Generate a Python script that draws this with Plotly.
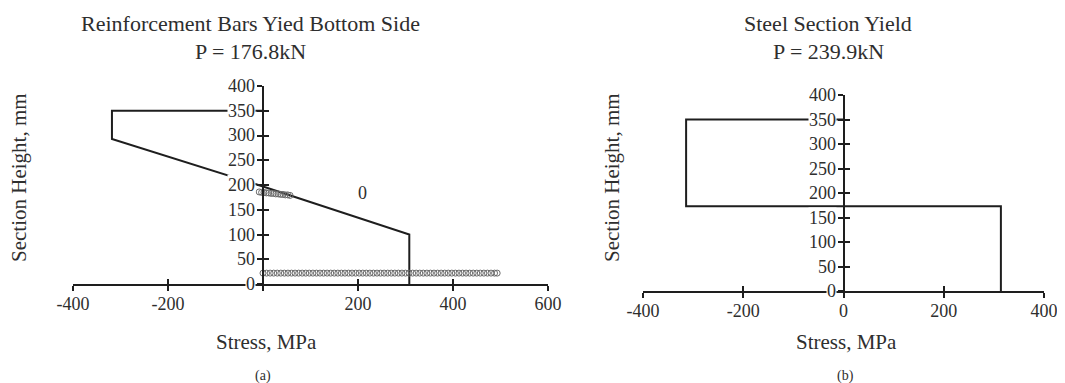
import plotly.graph_objects as go

W, H = 1065, 383          # window size of the reference
OFF = 8                   # page body margin that shifts the figure
FW, FH = W - OFF, H - OFF # figure size so it fits the window exactly
FONT = "Liberation Serif"
INK = "#1e1e1e"
TXT = "#2e2e2e"

# ---------------- data: panel (a) ----------------
a_title = "Reinforcement Bars Yied Bottom Side"
a_load = "P = 176.8kN"
a_x_range = [-400, 600]
a_y_range = [0, 400]
a_x_ticks = [-400, -200, 0, 200, 400, 600]
a_x_ticktext = ["-400", "-200", "", "200", "400", "600"]
a_profile_stress = [0, -318, -318, 0, 308, 308]
a_profile_height = [350, 350, 293, 197, 100, 0]
a_bottom_bar_stress = [0, 7.5, 15, 22.5, 30, 37.5, 45, 52.5, 60, 67.5, 75, 82.5, 90, 97.5,
                       105, 112.5, 120, 127.5, 135, 142.5, 150, 157.5, 165, 172.5, 180, 187.5,
                       195, 202.5, 210, 217.5, 225, 232.5, 240, 247.5, 255, 262.5, 270, 277.5,
                       285, 292.5, 300, 307.5, 315, 322.5, 330, 337.5, 345, 352.5, 360, 367.5,
                       375, 382.5, 390, 397.5, 405, 412.5, 420, 427.5, 435, 442.5, 450, 457.5,
                       465, 472.5, 480, 487.5, 493]
a_bottom_bar_height = [22] * len(a_bottom_bar_stress)
a_top_bar_stress = [-8, -3, 2, 7, 12, 17, 22, 27, 32, 37, 42, 47, 52, 57]
a_top_bar_height = [186, 185, 185, 184, 184, 183, 183, 182, 182, 181, 181, 180, 180, 179]
a_note_stress, a_note_height, a_note_text = 210, 184, "0"

# ---------------- data: panel (b) ----------------
b_title = "Steel Section Yield"
b_load = "P = 239.9kN"
b_x_range = [-400, 400]
b_y_range = [0, 400]
b_x_ticks = [-400, -200, 0, 200, 400]
b_x_ticktext = ["-400", "-200", "0", "200", "400"]
b_profile_stress = [0, -314, -314, 314, 314]
b_profile_height = [350, 350, 173, 173, 0]

y_ticks = [0, 50, 100, 150, 200, 250, 300, 350, 400]
x_title = "Stress, MPa"
y_title = "Section Height, mm"

# ---------------- layout geometry (window pixels) ----------------
a_dom_px = (73, 548, 86, 284)   # left, right, top, bottom
b_dom_px = (643, 1044, 95, 291)


def px_x(rx):
    return (rx - OFF) / FW


def px_y(ry):
    return 1 - (ry - OFF) / FH


def xdom(d):
    return [px_x(d[0]), px_x(d[1])]


def ydom(d):
    return [px_y(d[3]), px_y(d[2])]


def zero_pos(d, rng):
    x0, x1 = xdom(d)
    return x0 + (0 - rng[0]) / (rng[1] - rng[0]) * (x1 - x0)


fig = go.Figure()

line_style = dict(color=INK, width=2)
bar_marker = dict(symbol="circle-open", size=6, color="#6a6a6a",
                  line=dict(width=1, color="#6a6a6a"))
fig.add_trace(go.Scatter(x=a_profile_stress, y=a_profile_height, mode="lines",
                         line=line_style, xaxis="x", yaxis="y", showlegend=False))
# the rebar points sit on the twin (cross-tick) axes, which share the same ranges
fig.add_trace(go.Scatter(x=a_bottom_bar_stress, y=a_bottom_bar_height, mode="markers",
                         marker=bar_marker, xaxis="x3", yaxis="y3", showlegend=False))
fig.add_trace(go.Scatter(x=a_top_bar_stress, y=a_top_bar_height, mode="markers",
                         marker=bar_marker, xaxis="x3", yaxis="y3", showlegend=False))
fig.add_trace(go.Scatter(x=b_profile_stress, y=b_profile_height, mode="lines",
                         line=line_style, xaxis="x2", yaxis="y2", showlegend=False))
# empty trace that only registers the twin axes of panel (b)
fig.add_trace(go.Scatter(x=[], y=[], mode="lines", xaxis="x4", yaxis="y4",
                         showlegend=False, hoverinfo="skip"))

tickfont = dict(family=FONT, size=18, color=TXT)
common = dict(showgrid=False, zeroline=False, fixedrange=True, automargin=False,
              tickwidth=2, tickcolor=INK, ticklen=5)


def x_main(dom, rng, ticks, texts, anchor):
    return dict(domain=xdom(dom), range=rng, anchor=anchor, showline=True, linecolor=INK,
                linewidth=2, ticks="outside", tickvals=ticks, ticktext=texts,
                tickfont=tickfont, ticklabelstandoff=-3, **common)


def x_twin(over, anchor, rng, ticks):
    return dict(overlaying=over, anchor=anchor, range=rng, showline=False, ticks="inside",
                tickvals=ticks, showticklabels=False, **common)


def y_main(dom, rng, pos):
    return dict(domain=ydom(dom), range=rng, anchor="free", position=pos, showline=True,
                linecolor=INK, linewidth=2, ticks="outside", tickvals=y_ticks,
                showticklabels=False, **common)


def y_twin(over, rng, pos):
    return dict(overlaying=over, anchor="free", position=pos, range=rng, showline=False,
                ticks="inside", tickvals=y_ticks, showticklabels=False, **common)


a_pos = zero_pos(a_dom_px, a_x_range)
b_pos = zero_pos(b_dom_px, b_x_range)

fig.update_layout(
    template="none",
    width=FW, height=FH, margin=dict(l=0, r=0, t=0, b=0, pad=0, autoexpand=False),
    paper_bgcolor="white", plot_bgcolor="white",
    xaxis=x_main(a_dom_px, a_x_range, a_x_ticks, a_x_ticktext, "y"),
    yaxis=y_main(a_dom_px, a_y_range, a_pos),
    xaxis2=x_main(b_dom_px, b_x_range, b_x_ticks, b_x_ticktext, "y2"),
    yaxis2=y_main(b_dom_px, b_y_range, b_pos),
    xaxis3=x_twin("x", "y3", a_x_range, a_x_ticks),
    yaxis3=y_twin("y", a_y_range, a_pos),
    xaxis4=x_twin("x2", "y4", b_x_range, b_x_ticks),
    yaxis4=y_twin("y2", b_y_range, b_pos),
)

ann = []
# masked y tick labels (white background hides lines beneath, as in the original)
for xr, yr in (("x", "y"), ("x2", "y2")):
    for v in y_ticks:
        ann.append(dict(xref=xr, yref=yr, x=0, y=v, text=str(v), showarrow=False,
                        xanchor="right", yanchor="middle", xshift=-7, bgcolor="white",
                        borderpad=0, font=tickfont))


def paper_text(rx, ry, text, size, angle=0):
    return dict(xref="paper", yref="paper", x=px_x(rx), y=px_y(ry), text=text,
                showarrow=False, xanchor="center", yanchor="middle", textangle=angle,
                font=dict(family=FONT, size=size, color=TXT))


ann += [
    paper_text(250, 23, a_title, 22),
    paper_text(250, 52, a_load, 22),
    paper_text(828, 23, b_title, 22),
    paper_text(828, 52, b_load, 22),
    paper_text(266, 342, x_title, 21),
    paper_text(846, 342, x_title, 21),
    paper_text(263, 376, "(a)", 14),
    paper_text(845, 376, "(b)", 14),
    paper_text(19, 178, y_title, 21, -90),
    paper_text(612, 178, y_title, 21, -90),
    dict(xref="x", yref="y", x=a_note_stress, y=a_note_height, text=a_note_text,
         showarrow=False, font=dict(family=FONT, size=18, color=TXT)),
]
fig.update_layout(annotations=ann)

fig.write_html("out.html")
